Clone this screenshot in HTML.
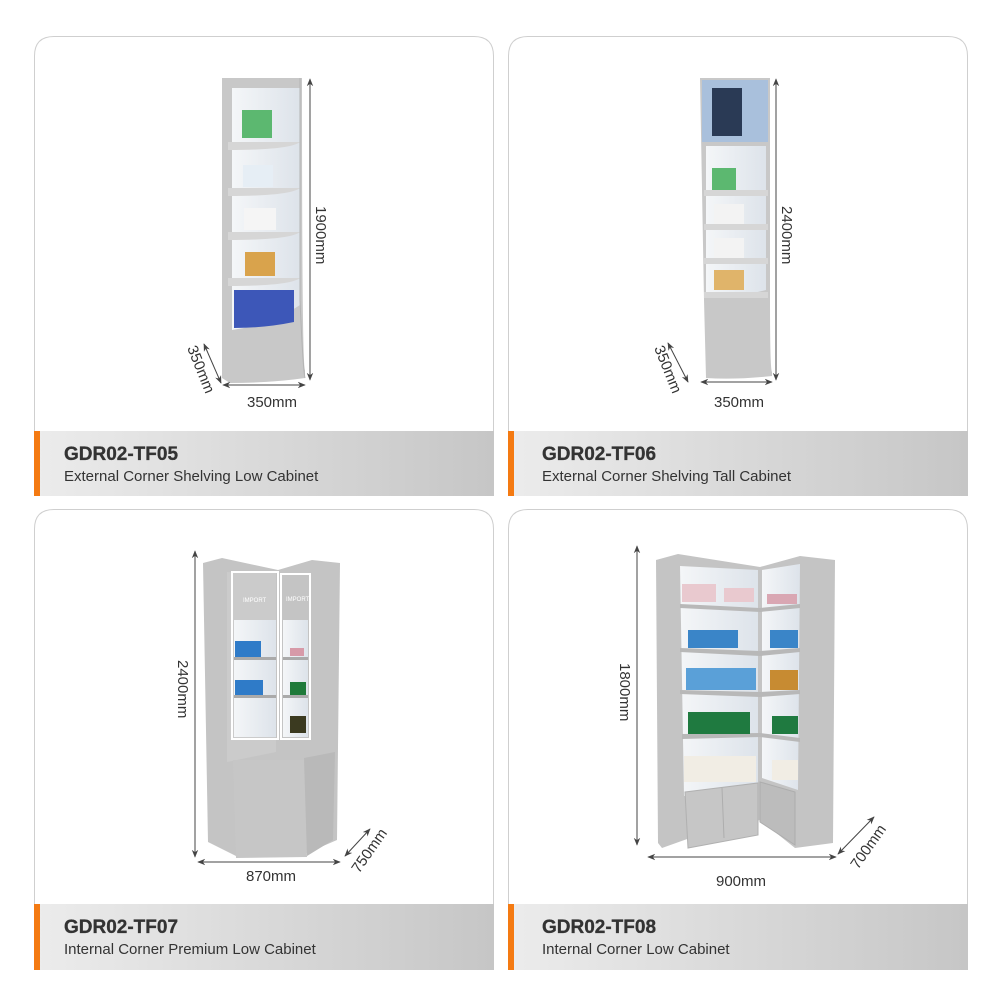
<!DOCTYPE html>
<html><head><meta charset="utf-8"><style>
body{margin:0;background:#fff}
svg{display:block}
text{font-family:"Liberation Sans",sans-serif;fill:#333}
</style></head><body>
<svg width="1001" height="1001" viewBox="0 0 1001 1001" xmlns="http://www.w3.org/2000/svg">
<defs>
<linearGradient id="band" x1="0" x2="1"><stop offset="0" stop-color="#ececec"/><stop offset="1" stop-color="#c6c6c6"/></linearGradient>
<linearGradient id="gl" x1="0" x2="1"><stop offset="0" stop-color="#f4f6f8"/><stop offset="1" stop-color="#dde3ea"/></linearGradient>
<marker id="ah" viewBox="0 0 10 10" refX="9" refY="5" markerWidth="8" markerHeight="8" orient="auto-start-reverse"><path d="M0,1 L10,5 L0,9 L3,5z" fill="#444"/></marker>
</defs>
<g fill="#fff" stroke="#cfcfcf" stroke-width="1">
<path d="M34.5,496 V56 Q34.5,36.5 54,36.5 H474 Q493.5,36.5 493.5,56 V496"/>
<path d="M508.5,496 V56 Q508.5,36.5 528,36.5 H948 Q967.5,36.5 967.5,56 V496"/>
<path d="M34.5,970 V529 Q34.5,509.5 54,509.5 H474 Q493.5,509.5 493.5,529 V970"/>
<path d="M508.5,970 V529 Q508.5,509.5 528,509.5 H948 Q967.5,509.5 967.5,529 V970"/>
</g>
<rect x="34" y="431" width="460" height="65" fill="url(#band)"/><rect x="34" y="431" width="6" height="65" fill="#f47a12"/>
<rect x="508" y="431" width="460" height="65" fill="url(#band)"/><rect x="508" y="431" width="6" height="65" fill="#f47a12"/>
<rect x="34" y="904" width="460" height="66" fill="url(#band)"/><rect x="34" y="904" width="6" height="66" fill="#f47a12"/>
<rect x="508" y="904" width="460" height="66" fill="url(#band)"/><rect x="508" y="904" width="6" height="66" fill="#f47a12"/>
<g font-size="19" font-weight="bold" style="stroke:#333;stroke-width:0.3">
<text x="64" y="460">GDR02-TF05</text><text x="542" y="460">GDR02-TF06</text><text x="64" y="933">GDR02-TF07</text><text x="542" y="933">GDR02-TF08</text></g>
<g font-size="15">
<text x="64" y="481">External Corner Shelving Low Cabinet</text>
<text x="542" y="481">External Corner Shelving Tall Cabinet</text>
<text x="64" y="954">Internal Corner Premium Low Cabinet</text>
<text x="542" y="954">Internal Corner Low Cabinet</text></g>

<!-- product 1 -->
<path d="M222,78 H302 V90 Q302,370 305,370 L305,378 Q270,383 230,383 L222,378z" fill="#c8c8c8"/>
<path d="M232,88 H300 V305 Q270,325 232,330z" fill="url(#gl)"/>
<g fill="#d6d6d6"><path d="M228,142 H300 Q290,150 228,150z"/><path d="M228,188 H300 Q290,196 228,196z"/><path d="M228,232 H300 Q290,240 228,240z"/><path d="M228,278 H300 Q290,286 228,286z"/></g>
<rect x="242" y="110" width="30" height="28" fill="#5cb870"/><rect x="243" y="165" width="30" height="22" fill="#e6eef5"/><rect x="244" y="208" width="32" height="22" fill="#f5f5f5"/><rect x="245" y="252" width="30" height="24" fill="#d9a34c"/>
<path d="M234,290 H294 V322 Q265,328 234,328z" fill="#3d57b8"/>
<path d="M300,78 V300 Q303,370 305,378" stroke="#b4b4b4" fill="none"/>
<line x1="310" y1="79" x2="310" y2="380" stroke="#444" marker-start="url(#ah)" marker-end="url(#ah)"/>
<g font-size="15">
<text transform="translate(316,206) rotate(90)">1900mm</text>
<text x="247" y="407">350mm</text>
<text transform="translate(187,348) rotate(68)">350mm</text>
<text transform="translate(782,206) rotate(90)">2400mm</text>
<text x="714" y="407">350mm</text>
<text transform="translate(654,348) rotate(68)">350mm</text>
<text transform="translate(178,660) rotate(90)">2400mm</text>
<text x="246" y="881">870mm</text>
<text transform="translate(359,874) rotate(-55)">750mm</text>
<text transform="translate(620,663) rotate(90)">1800mm</text>
<text x="716" y="886">900mm</text>
<text transform="translate(858,870) rotate(-55)">700mm</text>
</g>
<line x1="223" y1="385" x2="305" y2="385" stroke="#444" marker-start="url(#ah)" marker-end="url(#ah)"/>
<line x1="204" y1="344" x2="221" y2="383" stroke="#444" marker-start="url(#ah)" marker-end="url(#ah)"/>

<!-- product 2 -->
<path d="M700,78 H770 V300 Q770,370 772,372 L772,376 Q735,380 706,378 L704,300z" fill="#c8c8c8"/>
<path d="M702,80 H768 V142 H702z" fill="#a9c0dc"/><rect x="712" y="88" width="30" height="48" fill="#2a3a55"/>
<path d="M706,146 H766 V290 Q735,298 706,298z" fill="url(#gl)"/>
<g fill="#d6d6d6"><rect x="704" y="190" width="64" height="6"/><rect x="704" y="224" width="64" height="6"/><rect x="704" y="258" width="64" height="6"/><rect x="704" y="292" width="64" height="6"/></g>
<rect x="712" y="168" width="24" height="22" fill="#5cb870"/><rect x="714" y="204" width="30" height="20" fill="#f3f3f3"/><rect x="714" y="238" width="30" height="20" fill="#f3f3f3"/><rect x="714" y="270" width="30" height="20" fill="#e0b46a"/>
<line x1="776" y1="79" x2="776" y2="380" stroke="#444" marker-start="url(#ah)" marker-end="url(#ah)"/>
<line x1="701" y1="382" x2="772" y2="382" stroke="#444" marker-start="url(#ah)" marker-end="url(#ah)"/>
<line x1="668" y1="343" x2="688" y2="382" stroke="#444" marker-start="url(#ah)" marker-end="url(#ah)"/>

<!-- product 3 -->
<path d="M203,563 L222,558 L278,570 L312,560 L340,563 L337,840 L300,856 L238,857 L208,842z" fill="#c4c4c4"/>
<path d="M227,572 L276,573 L276,752 L227,762z" fill="#cbcbcb"/>
<path d="M233,760 H304 L307,857 L236,858z" fill="#c6c6c6"/>
<path d="M304,758 L335,752 L333,840 L307,856z" fill="#b9b9b9"/>
<rect x="232" y="572" width="46" height="167" fill="none" stroke="#fff" stroke-width="2"/>
<rect x="281" y="574" width="29" height="165" fill="none" stroke="#fff" stroke-width="2"/>
<rect x="234" y="620" width="42" height="117" fill="url(#gl)"/><rect x="283" y="620" width="25" height="117" fill="url(#gl)"/>
<g fill="#aaa"><rect x="234" y="657" width="42" height="3"/><rect x="234" y="695" width="42" height="3"/><rect x="283" y="657" width="25" height="3"/><rect x="283" y="695" width="25" height="3"/></g>
<rect x="235" y="641" width="26" height="16" fill="#2f7bc8"/><rect x="235" y="680" width="28" height="15" fill="#2f7bc8"/><rect x="290" y="648" width="14" height="8" fill="#d79aa8"/><rect x="290" y="682" width="16" height="13" fill="#1f7a3a"/><rect x="290" y="716" width="16" height="17" fill="#3b3a20"/>
<text x="243" y="602" font-size="6" style="fill:#fff">IMPORT</text><text x="286" y="601" font-size="6" style="fill:#fff">IMPORT</text>
<line x1="195" y1="551" x2="195" y2="857" stroke="#444" marker-start="url(#ah)" marker-end="url(#ah)"/>
<line x1="198" y1="862" x2="340" y2="862" stroke="#444" marker-start="url(#ah)" marker-end="url(#ah)"/>
<line x1="345" y1="856" x2="370" y2="829" stroke="#444" marker-start="url(#ah)" marker-end="url(#ah)"/>

<!-- product 4 -->
<path d="M656,560 L678,554 L760,567 L800,556 L835,560 L833,843 L795,848 L760,820 L690,838 L662,848 L658,843z" fill="#c4c4c4"/>
<path d="M680,566 L758,570 L758,785 L684,796z" fill="url(#gl)"/>
<path d="M762,570 L800,564 L798,790 L762,778z" fill="url(#gl)"/>
<g fill="#b8b8b8"><path d="M680,604 L760,608 L800,604 V608 L760,612 L680,608z"/><path d="M680,648 L760,651 L800,648 V652 L760,656 L680,652z"/><path d="M680,690 L760,692 L800,690 V694 L760,697 L680,694z"/><path d="M682,734 L760,733 L800,738 V742 L760,737 L682,739z"/></g>
<g><rect x="682" y="584" width="34" height="18" fill="#e9c9cf"/><rect x="724" y="588" width="30" height="14" fill="#e9c9cf"/><rect x="767" y="594" width="30" height="10" fill="#d9a7b3"/>
<rect x="688" y="630" width="50" height="18" fill="#3a85c8"/><rect x="770" y="630" width="28" height="18" fill="#3a85c8"/>
<rect x="686" y="668" width="70" height="22" fill="#5aa0d8"/><rect x="770" y="670" width="28" height="20" fill="#c78b32"/>
<rect x="688" y="712" width="62" height="22" fill="#1f7a40"/><rect x="772" y="716" width="26" height="18" fill="#1f7a40"/>
<rect x="684" y="756" width="72" height="26" fill="#f1ede4"/><rect x="772" y="760" width="26" height="20" fill="#f1ede4"/></g>
<path d="M685,792 L758,783 L758,835 L688,848z" fill="#c6c6c6" stroke="#b0b0b0"/>
<path d="M760,782 L795,792 L795,845 L760,822z" fill="#bcbcbc" stroke="#adadad"/>
<line x1="722" y1="788" x2="724" y2="838" stroke="#adadad"/>
<line x1="637" y1="546" x2="637" y2="845" stroke="#444" marker-start="url(#ah)" marker-end="url(#ah)"/>
<line x1="648" y1="857" x2="836" y2="857" stroke="#444" marker-start="url(#ah)" marker-end="url(#ah)"/>
<line x1="838" y1="854" x2="874" y2="817" stroke="#444" marker-start="url(#ah)" marker-end="url(#ah)"/>
</svg>
</body></html>
